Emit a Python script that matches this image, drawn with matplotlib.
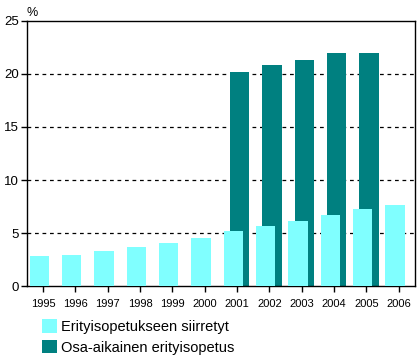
import numpy as np
import matplotlib
matplotlib.use("Agg")
import matplotlib.pyplot as plt

plt.rcParams["font.family"] = ["Liberation Sans", "DejaVu Sans"]

vuodet = ["1995", "1996", "1997", "1998", "1999", "2000",
          "2001", "2002", "2003", "2004", "2005", "2006"]
siirretyt = [2.86, 2.95, 3.33, 3.71, 4.08, 4.56, 5.2, 5.69, 6.16, 6.73, 7.29, 7.67]
osa_aikainen = [np.nan] * 6 + [20.15, 20.8, 21.3, 21.95, 21.95, np.nan]

vaalea = "#80ffff"
tumma = "#008080"

fig = plt.figure(figsize=(4.17, 3.58), dpi=100)
ax = fig.add_axes([0.0647, 0.2003, 0.9303, 0.7417])

x = np.arange(len(vuodet))
lev = 0.6
ax.bar(x + 0.08, osa_aikainen, lev, color=tumma, zorder=2,
       label="Osa-aikainen erityisopetus")
ax.bar(x - 0.12, siirretyt, lev, color=vaalea, zorder=3,
       label="Erityisopetukseen siirretyt")

ax.set_xlim(-0.5, len(vuodet) - 0.5)
ax.set_ylim(0, 25)
ax.set_yticks(range(0, 26, 5))
ax.set_xticks(x)
ax.set_xticklabels(vuodet, fontsize=8)
ax.tick_params(axis="y", labelsize=9.5, length=4, width=1, pad=2)
ax.tick_params(axis="x", length=4, width=1, pad=5)
for y in range(5, 25, 5):
    ax.axhline(y, color="black", linestyle=(0, (3, 3)), linewidth=0.9, zorder=1)
for s in ax.spines.values():
    s.set_linewidth(1)
    s.set_color("black")

fig.text(0.077, 0.965, "%", fontsize=9, ha="center", va="center")

h, l = ax.get_legend_handles_labels()
fig.legend(h[::-1], l[::-1], loc="upper left", bbox_to_anchor=(0.1, 0.108),
           frameon=False, fontsize=10.5, handlelength=1.05, handleheight=1.05,
           handletextpad=0.3, labelspacing=0.4, borderpad=0, borderaxespad=0)

fig.savefig("out.png", dpi=100)
